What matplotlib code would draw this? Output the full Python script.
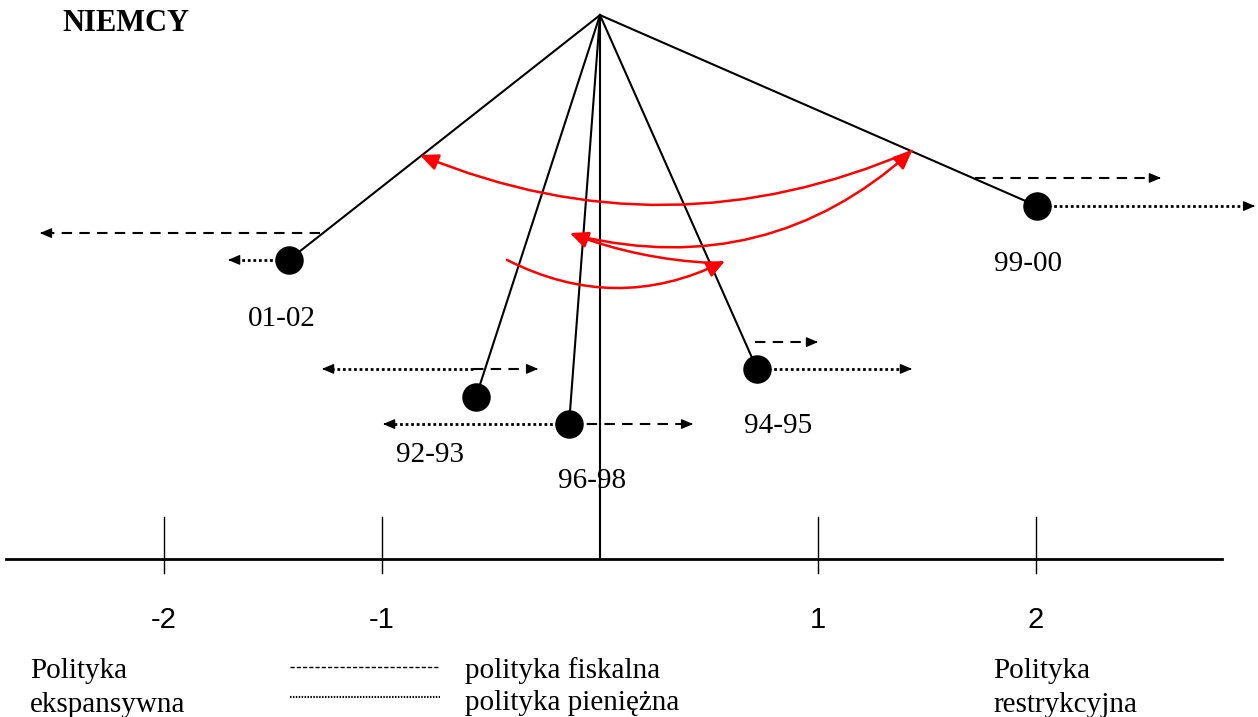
import matplotlib
matplotlib.use('Agg')
import matplotlib.pyplot as plt

# policy stance of each period (x) and height in the fan (y)
periods = ['01-02', '92-93', '96-98', '94-95', '99-00']
dot_x = [-1.427, -0.569, -0.142, 0.720, 2.005]
dot_y = [1.372, 0.743, 0.619, 0.872, 1.619]
apex = (0.0, 2.495)

# fiscal policy arrows (dashed): start x, end x, y
fisc_x0 = [-1.284, -0.583, -0.142, 0.711, 1.720]
fisc_x1 = [-2.569, -0.284, 0.427, 1.000, 2.573]
fisc_y = [1.495, 0.872, 0.619, 0.995, 1.748]

# monetary policy arrows (dotted)
mon_x0 = [-1.427, -0.583, -0.142, 0.720, 2.005]
mon_x1 = [-1.706, -1.275, -0.995, 1.431, 3.005]
mon_y = [1.372, 0.872, 0.619, 0.872, 1.619]

# period labels
lab_x = [-1.459, -0.780, -0.037, 0.817, 1.963]
lab_y = [1.101, 0.477, 0.358, 0.610, 1.353]

# red transition arrows 92-93 -> 94-95 -> 96-98 -> 99-00 -> 01-02
red_start = [(-0.427, 1.372), (0.514, 1.358), (-0.101, 1.482), (1.431, 1.872)]
red_end = [(0.573, 1.367), (-0.138, 1.495), (1.431, 1.872), (-0.826, 1.853)]
red_rad = [0.25, -0.08, 0.26, -0.21]

ticks = [-2, -1, 1, 2]

fig = plt.figure(figsize=(12.58, 7.17), dpi=100)
ax = fig.add_axes([0, 0, 1, 1])
ax.set_xlim(-600 / 218, 658 / 218)
ax.set_ylim(-158 / 218, 559 / 218)
ax.axis('off')

serif = 'Liberation Serif'
sans = 'Liberation Sans'


def head(x0, x1, y):
  d = 0.01 if x1 > x0 else -0.01
  ax.annotate('', xy=(x1, y), xytext=(x1 - d, y),
              arrowprops=dict(arrowstyle='-|>,head_length=0.7,head_width=0.3',
                              color='black', lw=1, shrinkA=0, shrinkB=0))


# horizontal axis, ticks and centre line
ax.plot([-2.725, 2.853], [0, 0], color='black', lw=2)
for t in ticks:
  ax.plot([t, t], [-0.064, 0.193], color='black', lw=1)
  ax.text(t, -0.28, str(t), fontsize=21, family=sans, ha='center', va='center')
ax.plot([0, 0], [0, apex[1]], color='black', lw=1.5)

# fan lines from apex to each period
for i in range(len(periods)):
  ax.plot([apex[0], dot_x[i]], [apex[1], dot_y[i]], color='black', lw=1.5)

for i in range(len(periods)):
  x1 = fisc_x1[i] - (0.03 if fisc_x1[i] > fisc_x0[i] else -0.03)
  ax.plot([fisc_x0[i], x1], [fisc_y[i], fisc_y[i]], color='black', lw=1.5,
          linestyle=(0, (5, 3.5)))
  head(fisc_x0[i], fisc_x1[i], fisc_y[i])
  x1 = mon_x1[i] - (0.03 if mon_x1[i] > mon_x0[i] else -0.03)
  ax.plot([mon_x0[i], x1], [mon_y[i], mon_y[i]], color='black', lw=2,
          linestyle=(0, (1, 1)))
  head(mon_x0[i], mon_x1[i], mon_y[i])

ax.plot(dot_x, dot_y, 'o', color='black', markersize=19.5, zorder=5)
for i in range(len(periods)):
  ax.text(lab_x[i], lab_y[i], periods[i], fontsize=21, family=serif,
          ha='center', va='center')

for i in range(len(red_start)):
  ax.annotate('', xy=red_end[i], xytext=red_start[i],
              arrowprops=dict(arrowstyle='-|>,head_length=1.1,head_width=0.5',
                              color='red', lw=1.8, shrinkA=0, shrinkB=0,
                              connectionstyle='arc3,rad=%s' % red_rad[i]))

ax.text(-2.468, 2.458, 'NIEMCY', fontsize=22, family=serif, weight='bold',
        ha='left', va='center')

# legend and captions
ax.plot([-1.422, -0.734], [-0.495, -0.495], color='black', lw=1, linestyle=(0, (3, 1.5)))
ax.plot([-1.422, -0.734], [-0.633, -0.633], color='black', lw=1.5, linestyle=(0, (0.7, 0.7)))
ax.text(-0.619, -0.512, 'polityka fiskalna', fontsize=21, family=serif, va='center')
ax.text(-0.619, -0.66, 'polityka pieniężna', fontsize=21, family=serif, va='center')
ax.text(-2.615, -0.512, 'Polityka', fontsize=21, family=serif, va='center')
ax.text(-2.615, -0.672, 'ekspansywna', fontsize=21, family=serif, va='center')
ax.text(1.803, -0.512, 'Polityka', fontsize=21, family=serif, va='center')
ax.text(1.803, -0.672, 'restrykcyjna', fontsize=21, family=serif, va='center')

plt.savefig('out.png', dpi=100)
